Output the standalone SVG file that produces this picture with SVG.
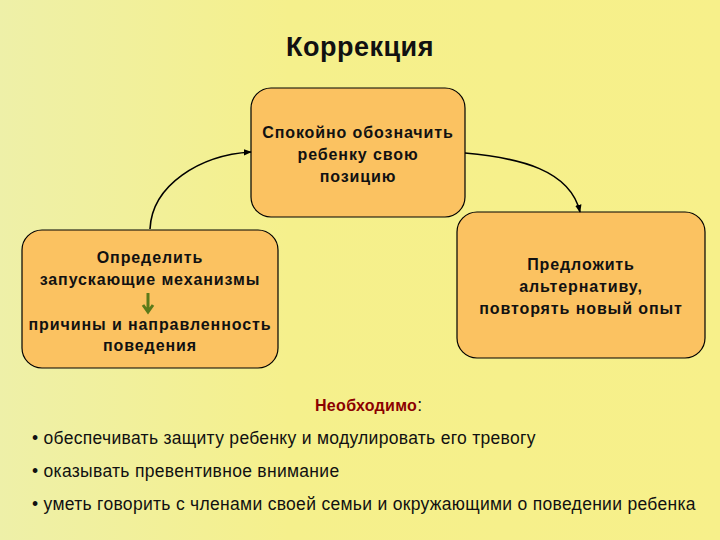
<svg xmlns="http://www.w3.org/2000/svg" width="720" height="540" viewBox="0 0 720 540">
<defs>
<linearGradient id="bg" x1="0" y1="0" x2="1" y2="0">
<stop offset="0" stop-color="#EEF0A8"/><stop offset="0.4" stop-color="#F5F08C"/><stop offset="1" stop-color="#F7F08A"/>
</linearGradient>
<marker id="ah" viewBox="0 0 10 10" refX="9" refY="5" markerWidth="5" markerHeight="5" orient="auto"><path d="M0,1 L10,5 L0,9 z" fill="#000"/></marker>
<style>
.box{fill:#FBC261;stroke:#000;stroke-width:1.2}
.t{font-family:"Liberation Sans",Arial,sans-serif;font-size:16px;font-weight:bold;text-anchor:middle;fill:#111;letter-spacing:0.9px}
.b{font-family:"Liberation Sans",Arial,sans-serif;font-size:17.5px;fill:#111;letter-spacing:0.3px}
.c{fill:none;stroke:#000;stroke-width:1.6}
</style>
</defs>
<rect width="720" height="540" fill="url(#bg)"/>
<text x="360" y="56" class="t" style="font-size:27px;letter-spacing:0.5px">Коррекция</text>
<g id="top"><rect class="box" x="251" y="88" width="214" height="129" rx="20"/>
<text class="t" x="358" y="138">Спокойно обозначить</text><text class="t" x="358" y="160">ребенку свою</text><text class="t" x="358" y="182">позицию</text></g>
<g id="left"><rect class="box" x="22" y="230" width="256" height="138" rx="20"/>
<text class="t" x="150" y="263">Определить</text><text class="t" x="150" y="285">запускающие механизмы</text>
<path d="M148,293 V310 M143,305 L148,312 L153,305" fill="none" stroke="#5A7A1A" stroke-width="3"/>
<text class="t" x="150" y="330">причины и направленность</text><text class="t" x="150" y="351">поведения</text></g>
<g id="right"><rect class="box" x="457" y="212" width="248" height="146" rx="20"/>
<text class="t" x="581" y="270">Предложить</text><text class="t" x="581" y="292">альтернативу,</text><text class="t" x="581" y="314">повторять новый опыт</text></g>
<g id="connectors">
<path class="c" d="M150,229 C152,185 200,155 251,152" marker-end="url(#ah)"/>
<path class="c" d="M465,153 C520,158 570,170 580,212" marker-end="url(#ah)"/>
</g>
<g id="notes">
<text x="315" y="411" class="b"><tspan fill="#8B0000" font-weight="bold" style="font-size:16px">Необходимо</tspan>:</text>
<text x="32" y="444" class="b">• обеспечивать защиту ребенку и модулировать его тревогу</text>
<text x="32" y="477" class="b">• оказывать превентивное внимание</text>
<text x="32" y="510" class="b">• уметь говорить с членами своей семьи и окружающими о поведении ребенка</text>
</g>
</svg>
